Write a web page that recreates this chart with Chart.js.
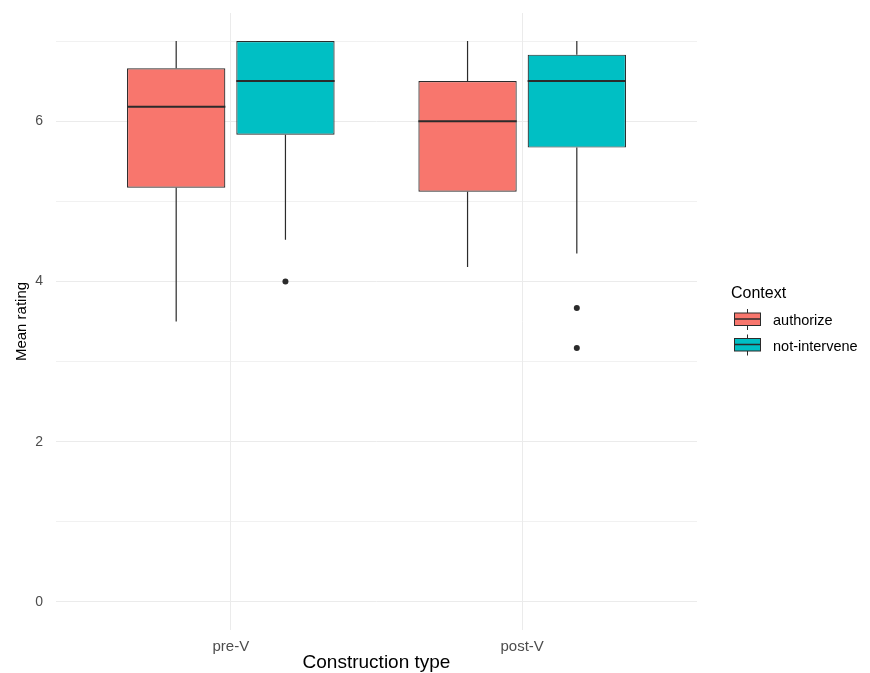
<!DOCTYPE html>
<html>
<head>
<meta charset="utf-8">
<script src="https://cdn.jsdelivr.net/npm/chart.js@4/dist/chart.umd.min.js"></script>
<style>
    body { margin: 0; background: #ffffff; }
    canvas { display: block; }
</style>
</head>
<body>
<canvas id="boxChart" width="870" height="673"></canvas>
<script>
// values
const categories = ['pre-V', 'post-V'];
const yTicks = [0, 1, 2, 3, 4, 5, 6, 7];

const authorizeMin = [3.5, 4.18];
const authorizeQ1 = [5.17, 5.12];
const authorizeMedian = [6.18, 6.0];
const authorizeQ3 = [6.66, 6.5];
const authorizeMax = [7, 7];
const authorizeOutliers = [[], []];

const notInterveneMin = [4.52, 4.35];
const notInterveneQ1 = [5.83, 5.67];
const notInterveneMedian = [6.5, 6.5];
const notInterveneQ3 = [7, 6.83];
const notInterveneMax = [7, 7];
const notInterveneOutliers = [[4.0], [3.67, 3.17]];

const FONT = "'Liberation Sans', Arial, sans-serif";
const LINE = '#2b2b2b';

function BoxData(q1, q3) {
    return categories.map(function (c, i) {
        return { x: i + 1, y: [q1[i], q3[i]] };
    });
}

// whiskers, medians and outliers on top of the floating bars
const boxPlugin = {
    id: 'boxPlugin',
    beforeDatasetsDraw: function (chart) {
        const ctx = chart.ctx;
        const yScale = chart.scales.y;
        ctx.save();
        ctx.strokeStyle = LINE;
        ctx.lineWidth = 1.2;
        chart.data.datasets.forEach(function (ds, d) {
            const meta = chart.getDatasetMeta(d);
            meta.data.forEach(function (bar, i) {
                ctx.beginPath();
                ctx.moveTo(bar.x, yScale.getPixelForValue(ds.stats.max[i]));
                ctx.lineTo(bar.x, yScale.getPixelForValue(ds.stats.q3[i]));
                ctx.moveTo(bar.x, yScale.getPixelForValue(ds.stats.q1[i]));
                ctx.lineTo(bar.x, yScale.getPixelForValue(ds.stats.min[i]));
                ctx.stroke();
            });
        });
        ctx.restore();
    },
    afterDatasetsDraw: function (chart) {
        const ctx = chart.ctx;
        const yScale = chart.scales.y;
        ctx.save();
        chart.data.datasets.forEach(function (ds, d) {
            const meta = chart.getDatasetMeta(d);
            meta.data.forEach(function (bar, i) {
                const half = bar.width / 2;
                const ym = yScale.getPixelForValue(ds.stats.median[i]);
                ctx.strokeStyle = LINE;
                ctx.lineWidth = 2;
                ctx.beginPath();
                ctx.moveTo(bar.x - half, ym);
                ctx.lineTo(bar.x + half, ym);
                ctx.stroke();

                ctx.fillStyle = LINE;
                ds.stats.outliers[i].forEach(function (v) {
                    ctx.beginPath();
                    ctx.arc(bar.x, yScale.getPixelForValue(v), 3, 0, Math.PI * 2);
                    ctx.fill();
                });
            });
        });
        ctx.restore();
    },
    afterDraw: function (chart) {
        // legend with small box glyphs, like ggplot
        const ctx = chart.ctx;
        ctx.save();
        ctx.fillStyle = '#000000';
        ctx.font = '16px ' + FONT;
        ctx.textAlign = 'left';
        ctx.textBaseline = 'middle';
        ctx.fillText('Context', 731, 294);

        chart.data.datasets.forEach(function (ds, d) {
            const cy = 319 + d * 25.5;
            ctx.strokeStyle = LINE;
            ctx.lineWidth = 1;
            ctx.beginPath();
            ctx.moveTo(747.5, cy - 10);
            ctx.lineTo(747.5, cy + 11);
            ctx.stroke();
            ctx.fillStyle = ds.backgroundColor;
            ctx.fillRect(734.5, cy - 6, 26, 12.5);
            ctx.strokeRect(734.5, cy - 6, 26, 12.5);
            ctx.lineWidth = 1.5;
            ctx.beginPath();
            ctx.moveTo(734.5, cy);
            ctx.lineTo(760.5, cy);
            ctx.stroke();

            ctx.fillStyle = '#000000';
            ctx.font = '14.5px ' + FONT;
            ctx.fillText(ds.label, 773, cy + 2);
        });
        ctx.restore();
    }
};

function LoadBoxChart() {
    const ctx = document.getElementById('boxChart').getContext('2d');

    new Chart(ctx, {
        type: 'bar',
        data: {
            datasets: [{
                label: 'authorize',
                data: BoxData(authorizeQ1, authorizeQ3),
                stats: { min: authorizeMin, q1: authorizeQ1, median: authorizeMedian, q3: authorizeQ3, max: authorizeMax, outliers: authorizeOutliers },
                backgroundColor: '#F8766D',
                borderColor: LINE,
                borderWidth: 1.2,
                borderSkipped: false
            }, {
                label: 'not-intervene',
                data: BoxData(notInterveneQ1, notInterveneQ3),
                stats: { min: notInterveneMin, q1: notInterveneQ1, median: notInterveneMedian, q3: notInterveneQ3, max: notInterveneMax, outliers: notInterveneOutliers },
                backgroundColor: '#00BFC4',
                borderColor: LINE,
                borderWidth: 1.2,
                borderSkipped: false
            }]
        },
        options: {
            responsive: false,
            animation: false,
            devicePixelRatio: 1,
            categoryPercentage: 0.75,
            barPercentage: 0.9,
            layout: { padding: { left: 5, top: 13, right: 173, bottom: 0 } },
            plugins: {
                legend: { display: false },
                tooltip: { enabled: false }
            },
            scales: {
                x: {
                    type: 'linear',
                    min: 0.4,
                    max: 2.6,
                    offset: false,
                    afterBuildTicks: function (scale) {
                        scale.ticks = categories.map(function (c, i) { return { value: i + 1 }; });
                    },
                    afterFit: function (scale) { scale.height = 43; },
                    grid: { color: '#ebebeb', lineWidth: 1, drawTicks: false, offset: false },
                    border: { display: false },
                    ticks: {
                        padding: 8,
                        maxRotation: 0,
                        color: '#4d4d4d',
                        font: { family: FONT, size: 15 },
                        callback: function (v) { return categories[v - 1] || ''; }
                    },
                    title: {
                        display: true,
                        text: 'Construction type',
                        color: '#000000',
                        padding: { top: 0, bottom: -1 },
                        font: { family: FONT, size: 19 }
                    }
                },
                y: {
                    min: -0.35,
                    max: 7.35,
                    afterBuildTicks: function (scale) {
                        scale.ticks = yTicks.map(function (v) { return { value: v }; });
                    },
                    afterFit: function (scale) { scale.width = 51; },
                    grid: {
                        color: '#ebebeb',
                        drawTicks: true,
                        tickLength: 13,
                        tickColor: 'rgba(0,0,0,0)',
                        lineWidth: function (c) { return c.tick && c.tick.value % 2 ? 0.7 : 1; }
                    },
                    border: { display: false },
                    ticks: {
                        padding: 0,
                        color: '#4d4d4d',
                        font: { family: FONT, size: 14 },
                        callback: function (v) { return v % 2 === 0 ? v : ''; }
                    },
                    title: {
                        display: true,
                        text: 'Mean rating',
                        color: '#000000',
                        padding: { top: 8, bottom: 0 },
                        font: { family: FONT, size: 15 }
                    }
                }
            }
        },
        plugins: [boxPlugin]
    });
}

LoadBoxChart();
</script>
</body>
</html>
